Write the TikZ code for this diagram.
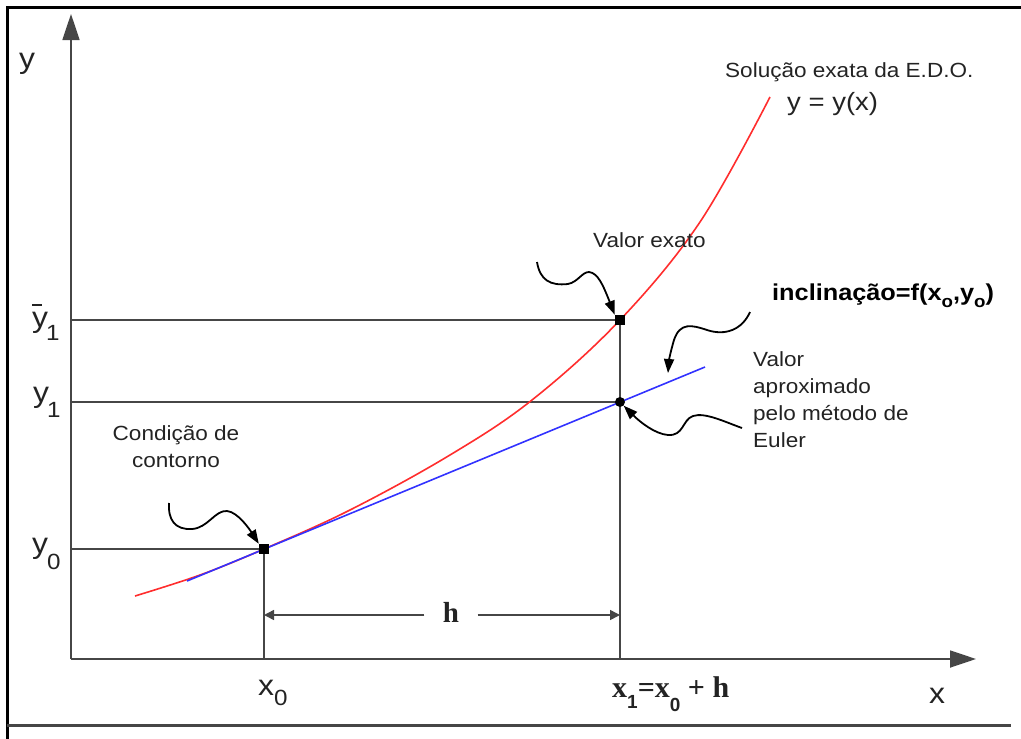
\documentclass[tikz,border=0pt]{standalone}
\usepackage{fontspec}
\setmainfont{Liberation Sans}[FakeStretch=1.1]
\newfontfamily\lserif{Liberation Serif}
\newfontfamily\lsansplain{Liberation Sans}
\usetikzlibrary{arrows.meta}
\definecolor{guidegray}{RGB}{70,70,70}
\definecolor{curvered}{RGB}{255,45,45}
\definecolor{lineblue}{RGB}{50,50,255}
\definecolor{txt}{RGB}{35,35,35}
\newcommand\tsub[3][15pt]{\kern#2\raisebox{-#1}{\fontsize{22}{22}\selectfont #3}}
\newcommand\ssub[3][11pt]{\kern#2\raisebox{-#1}{\lsansplain\bfseries\fontsize{19}{19}\selectfont #3}}
\newcommand\isub[1]{\raisebox{-7pt}{\fontsize{17}{17}\selectfont #1}}
\tikzset{
  guide/.style={line width=1.8pt, draw=guidegray},
  axisline/.style={guide, -{Triangle[length=26pt,width=17pt]}},
  harrow/.style={line width=1.5pt, draw=guidegray, -{Triangle[length=10pt,width=10pt]}},
  curly/.style={line width=1.8pt, draw=black, -{Triangle[length=14pt,width=10pt]}},
  lbl/.style={font=\fontsize{20.5}{27}\selectfont, text=txt, inner sep=0pt, anchor=base west},
  axl/.style={font=\fontsize{29}{29}\selectfont, text=txt, inner sep=0pt, anchor=base west},
  sq/.style={rectangle, fill=black, minimum size=10pt, inner sep=0pt},
  dotm/.style={circle, fill=black, minimum size=10pt, inner sep=0pt}
}
\begin{document}
\begin{tikzpicture}[x=1pt,y=-1pt]
\useasboundingbox (0,0) rectangle (1021,739);
% frame
\draw[line width=3pt] (7,739) -- (7,7) -- (1021,7);
\draw[line width=3pt, draw=guidegray] (7,725.5) -- (1011,725.5);

% axes
\coordinate (O) at (71,659);
\coordinate (ytop) at (71,14);
\coordinate (xend) at (976,659);
\draw[axisline] (O) -- (ytop);
\draw[axisline] (O) -- (xend);

% guide coordinates
\coordinate (gy1b) at (71,320);
\coordinate (gy1) at (71,402);
\coordinate (gy0) at (71,549);
\coordinate (gx0) at (264,659);
\coordinate (gx1) at (620,659);

% markers (positions)
\coordinate (P0) at (264,549);
\coordinate (PE) at (620,320);
\coordinate (PA) at (620,402);

\draw[guide] (gy1b) -- (PE);
\draw[guide] (gy1) -- (PA);
\draw[guide] (gy0) -- (P0);
\draw[guide] (gx0) -- (P0);
\draw[guide] (gx1) -- (PE);

% exact solution
\draw[curvered, line width=1.6pt] plot[smooth, tension=0.6] coordinates
  {(135,596) (200,575) (264,549) (350,510) (450,455) (532,400) (620,320) (700,222) (770,97)};
% tangent
\coordinate (b0) at (187,581);
\coordinate (b1) at (705,367);
\draw[lineblue, line width=1.6pt] (b0) -- (b1);

\node[sq] (p0) at (P0) {};
\node[sq] (pe) at (PE) {};
\node[dotm] (pa) at (PA) {};

% h dimension
\coordinate (h0) at (264,615);
\coordinate (h1) at (620,615);
\node[font=\lserif\bfseries\fontsize{29}{29}\selectfont, text=txt, minimum width=53pt, inner sep=0pt] (hl) at (451,612) {h};
\draw[harrow] (hl.west |- h0) -- (h0);
\draw[harrow] (hl.east |- h1) -- (h1);

% labels
\node[axl] (ylab) at (19,68) {y};
\node[axl] (xlab) at (929,703) {x};
\node[axl] (ty1b) at (32,327) {\rlap{\rule[21pt]{10pt}{1.8pt}}y\tsub[13pt]{-2pt}{1}};
\node[axl] (ty1) at (33,402) {y\tsub{-2pt}{1}};
\node[axl] (ty0) at (32,553) {y\tsub[16pt]{-1pt}{0}};
\node[axl] (tx0) at (258,695) {x\tsub[10pt]{0pt}{0}};
\node[font=\lserif\bfseries\fontsize{30}{30}\selectfont, text=txt, inner sep=0pt, anchor=base west] (tx1) at (612,697)
  {x\ssub{0pt}{1}=x\ssub[14pt]{0pt}{0} + h};

\node[lbl] (sol) at (725,77) {Solução exata da E.D.O.};
\node[lbl, font=\fontsize{25}{30}\selectfont] (yeq) at (787,110) {y = y(x)};
\node[lbl] (vex) at (593,247) {Valor exato};
\node[lbl, font=\bfseries\fontsize{23}{28}\selectfont, text=black] (incl) at (772,300) {inclinação=f(x\isub{o},y\isub{o})};
\node[lbl, align=left] (vap) at (753,447) {Valor\\aproximado\\pelo método de\\Euler};
\node[lbl, align=center, anchor=base] (cond) at (176,467) {Condição de\\contorno};

% curly arrows
\coordinate (c1) at (169,503);
\draw[curly] (c1) .. controls (168,520) and (175,530) .. (192,529)
  .. controls (208,528) and (215,510) .. (227,511)
  .. controls (238,512) and (250,530) .. (p0.north west);
\coordinate (c2) at (537,262);
\draw[curly] (c2) .. controls (540,280) and (550,286) .. (568,284)
  .. controls (578,282) and (582,272) .. (589,272)
  .. controls (598,273) and (603,285) .. (pe.north west);
\coordinate (c3) at (750,312);
\coordinate (c3t) at (668,373);
\draw[curly] (c3) .. controls (742,330) and (725,336) .. (707,330)
  .. controls (692,325) and (680,322) .. (674,340)
  .. controls (671,350) and (669,360) .. (c3t);
\coordinate (c4) at (742,428);
\draw[curly] (c4) .. controls (725,422) and (705,412) .. (693,416)
  .. controls (682,420) and (684,436) .. (668,435)
  .. controls (655,434) and (640,422) .. (pa.south east);
\end{tikzpicture}
\end{document}
